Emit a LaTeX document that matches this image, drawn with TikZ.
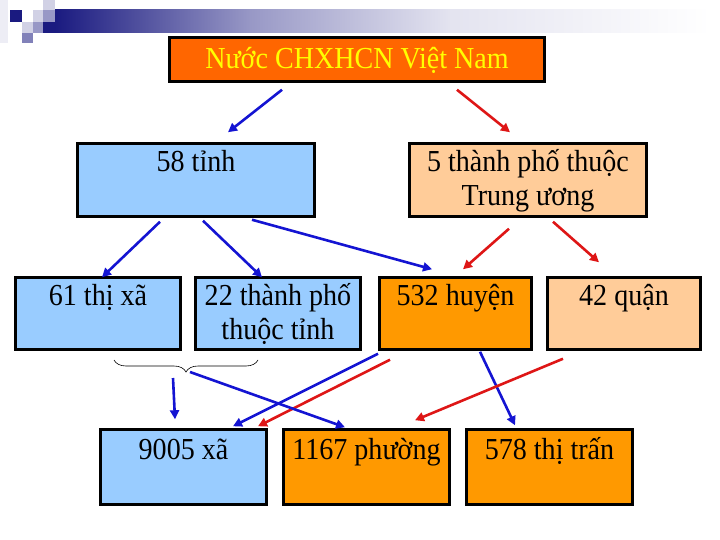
\documentclass[tikz,border=0pt]{standalone}
\usepackage{fontspec}
\setmainfont{Liberation Serif}[FakeStretch=0.92]
\usetikzlibrary{arrows.meta,calc,decorations.pathreplacing}
\definecolor{headnavy}{RGB}{26,26,128}
\definecolor{topfill}{HTML}{FF6600}
\definecolor{topyellow}{HTML}{FFFF00}
\definecolor{boxblue}{HTML}{99CCFF}
\definecolor{boxpeach}{HTML}{FFCC99}
\definecolor{boxorange}{HTML}{FF9900}
\definecolor{arrblue}{RGB}{20,20,210}
\definecolor{arrred}{RGB}{222,22,22}
\newcommand\boxstrut{\rule[-8pt]{0pt}{34pt}}

\begin{document}
\begin{tikzpicture}[x=1pt,y=-1pt,
	box/.style={draw=black, line width=2.5pt, inner sep=1pt, align=center, font=\fontsize{30.5}{34}\selectfont},
	bluearr/.style={arrblue, line width=2.6pt, -{Triangle[length=9pt,width=9pt]}},
	redarr/.style={arrred, line width=2.6pt, -{Triangle[length=9pt,width=9pt]}}]
	\useasboundingbox (0,0) rectangle (720,540);
	% header bar and squares
	\fill[headnavy!8] (0,0) rectangle (8,43);
	\fill[headnavy] (10,10) rectangle (22,22);
	\fill[headnavy!20] (33,10) rectangle (43,22);
	\fill[headnavy!20] (43,0) rectangle (55,10);
	\fill[headnavy!45] (43,10) rectangle (55,22);
	\fill[headnavy!20] (22,22) rectangle (33,33);
	\fill[headnavy!45] (33,22) rectangle (43,33);
	\fill[headnavy!55] (22,33) rectangle (33,43);
	\fill[headnavy] (43,22) rectangle (55.5,33);
	\shade[left color=headnavy, right color=headnavy!45] (55,10) rectangle (250.5,33);
	\shade[left color=headnavy!45, right color=headnavy!12] (250,10) rectangle (450.5,33);
	\shade[left color=headnavy!12, right color=white] (450,10) rectangle (710,33);
	% boxes
	\node[box, fill=topfill, text=topyellow, minimum width=375pt, minimum height=44pt] (nuoc) at (357,59.5) {\boxstrut Nước CHXHCN Việt Nam};
	\node[box, fill=boxblue, minimum width=237pt, minimum height=73pt] (tinh) at (196,180) {\boxstrut 58 tỉnh\\\boxstrut};
	\node[box, fill=boxpeach, minimum width=237pt, minimum height=73pt] (tptw) at (528,180) {\boxstrut 5 thành phố thuộc\\\boxstrut Trung ương};
	\node[box, fill=boxblue, minimum width=165pt, minimum height=72pt] (thixa) at (98,313.5) {\boxstrut 61 thị xã\\\boxstrut};
	\node[box, fill=boxblue, minimum width=165pt, minimum height=72pt] (tpt) at (278,313.5) {\boxstrut 22 thành phố\\\boxstrut thuộc tỉnh};
	\node[box, fill=boxorange, minimum width=152pt, minimum height=72pt] (huyen) at (455.5,313.5) {\boxstrut 532 huyện\\\boxstrut};
	\node[box, fill=boxpeach, minimum width=153pt, minimum height=72pt] (quan) at (624,313.5) {\boxstrut 42 quận\\\boxstrut};
	\node[box, fill=boxblue, minimum width=166pt, minimum height=75pt] (xa) at (183.5,467) {\boxstrut 9005 xã\\\boxstrut};
	\node[box, fill=boxorange, minimum width=166pt, minimum height=75pt] (phuong) at (366.5,467) {\boxstrut 1167 phường\\\boxstrut};
	\node[box, fill=boxorange, minimum width=166pt, minimum height=75pt] (thitran) at (549.5,467) {\boxstrut 578 thị trấn\\\boxstrut};
	% brace under 61 thi xa and 22 thanh pho
	\draw[line width=0.6pt, decorate, decoration={brace, amplitude=12pt}] (258,360) -- (114,360);
	\coordinate (brace) at (186,372);
	% connectors
	\draw[bluearr] ($(nuoc.south)+(-75,7)$) -- ($(tinh.north)+(32,-10)$);
	\draw[redarr] ($(nuoc.south)+(100,7)$) -- ($(tptw.north)+(-18,-10)$);
	\draw[bluearr] ($(tinh.south)+(-36,4)$) -- ($(thixa.north)+(4,1)$);
	\draw[bluearr] ($(tinh.south)+(7,3)$) -- ($(tpt.north)+(-16,1)$);
	\draw[bluearr] ($(tinh.south)+(56,2)$) -- ($(huyen.north)+(-23.5,-7)$);
	\draw[redarr] ($(tptw.south)+(-19,11)$) -- ($(huyen.north)+(7.5,-7)$);
	\draw[redarr] ($(tptw.south)+(25,4)$) -- ($(quan.north)+(-25,-14)$);
	\draw[bluearr] ($(huyen.south)+(-77.5,3)$) -- ($(xa.north)+(49.5,-2)$);
	\draw[redarr] ($(huyen.south)+(-65.5,9)$) -- ($(xa.north)+(74.5,-2)$);
	\draw[bluearr] ($(huyen.south)+(24.5,1)$) -- ($(thitran.north)+(-34.5,-3)$);
	\draw[redarr] ($(quan.south)+(-61,8)$) -- ($(phuong.north)+(48.5,-8)$);
	\draw[bluearr] ($(brace)+(-13,6)$) -- ($(xa.north)+(-8.5,-9)$);
	\draw[bluearr] ($(brace)+(4,0)$) -- ($(phuong.north)+(-21.5,-1)$);
\end{tikzpicture}
\end{document}
